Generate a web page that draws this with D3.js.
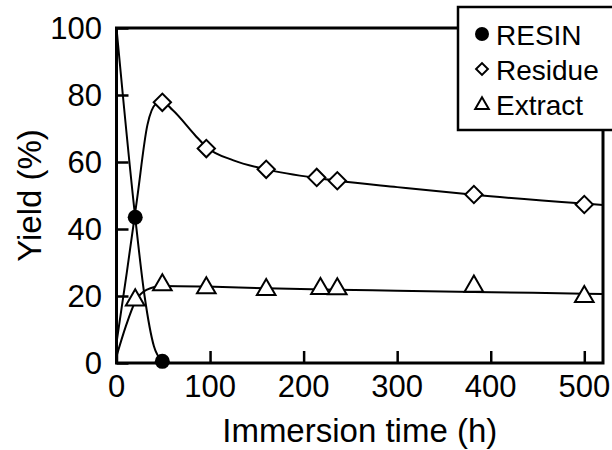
<!DOCTYPE html>
<html>
<head>
<meta charset="utf-8">
<script src="https://cdn.jsdelivr.net/npm/d3@7"></script>
<style>
  body{margin:0;background:#fff}
  svg{display:block}
</style>
</head>
<body>
<div id="chart"></div>
<script>
// measured points (t in h, yield in %)
var resinPts=[[0,100],[20,43.5],[49,0.5]];
var residuePts=[[49,77.8],[96,64],[160,57.8],[214,55.4],[236,54.4],[382,50.3],[500,47.3]];
var extractPts=[[20,18.8],[49,23.3],[96,22.4],[160,21.9],[218,22.2],[236,22.1],[382,22.9],[500,19.8]];

// fitted curves as drawn in the figure
var resinFit=[[0,100],[20,43.5],[30,20],[40,5],[49,0.5]];
var residueFit=[[0,6],[11,27],[22,49],[33,71],[42,77.3],[49,78],[60,75.5],[84,68],[96,64.5],[125,60.5],[160,57.8],[214,55.2],[236,54.4],[300,52.5],[382,50.2],[500,47.6],[520,47.2]];
var extractFit=[[0,2],[10,11],[20,18.3],[32,21.8],[49,23],[96,22.8],[160,22.3],[236,21.9],[300,21.6],[382,21.2],[500,20.7],[520,20.6]];

var xTicks=[0,100,200,300,400,500];
var yTicks=[0,20,40,60,80,100];
var legendLabels=['RESIN','Residue','Extract'];

var W=612,H=450;
var m={l:116.5,t:28,r:9,b:87};
var F='"Liberation Sans",Arial,sans-serif';

var svg=d3.select('#chart').append('svg').attr('width',W).attr('height',H);
var x=d3.scaleLinear().domain([0,520]).range([m.l,W-m.r]);
var y=d3.scaleLinear().domain([0,100]).range([H-m.b,m.t]);

// ticks, inward
var gx=svg.append('g').attr('transform','translate(0,'+(H-m.b)+')')
  .call(d3.axisBottom(x).tickValues(xTicks).tickSize(-12).tickFormat(''));
var gy=svg.append('g').attr('transform','translate('+m.l+',0)')
  .call(d3.axisLeft(y).tickValues(yTicks).tickSize(-12).tickFormat(''));
[gx,gy].forEach(function(g){
  g.select('.domain').remove();
  g.selectAll('.tick line').attr('stroke','#000').attr('stroke-width',2.5);
});

// tick labels
svg.selectAll('.xl').data(xTicks).enter().append('text')
  .attr('x',function(d){return x(d)}).attr('y',H-m.b+34)
  .attr('text-anchor','middle').attr('font-family',F).attr('font-size',31).text(function(d){return d});
svg.selectAll('.yl').data(yTicks).enter().append('text')
  .attr('x',102).attr('y',function(d){return y(d)}).attr('dy','0.36em')
  .attr('text-anchor','end').attr('font-family',F).attr('font-size',31).text(function(d){return d});

// axis titles
svg.append('text').attr('x',(m.l+W-m.r)/2).attr('y',442)
  .attr('text-anchor','middle').attr('font-family',F).attr('font-size',33).text('Immersion time (h)');
svg.append('text').attr('transform','translate(41,'+((m.t+H-m.b)/2)+') rotate(-90)')
  .attr('text-anchor','middle').attr('font-family',F).attr('font-size',33).text('Yield (%)');

// curves
var line=d3.line().x(function(d){return x(d[0])}).y(function(d){return y(d[1])}).curve(d3.curveMonotoneX);
var plot=svg.append('g');
[resinFit,residueFit,extractFit].forEach(function(f){
  plot.append('path').attr('d',line(f)).attr('fill','none').attr('stroke','#000').attr('stroke-width',2);
});

// frame
svg.append('rect').attr('x',m.l).attr('y',m.t).attr('width',W-m.r-m.l).attr('height',H-m.b-m.t)
  .attr('fill','none').attr('stroke','#000').attr('stroke-width',3);

// markers
var diamond=d3.symbol().type(d3.symbolSquare).size(150);
var tri=d3.symbol().type(d3.symbolTriangle).size(150);
plot.selectAll('.res').data(residuePts).enter().append('path')
  .attr('d',diamond).attr('transform',function(d){return 'translate('+x(d[0])+','+y(d[1])+') rotate(45)'})
  .attr('fill','#fff').attr('stroke','#000').attr('stroke-width',2);
plot.selectAll('.ext').data(extractPts).enter().append('path')
  .attr('d',tri).attr('transform',function(d){return 'translate('+x(d[0])+','+y(d[1])+')'})
  .attr('fill','#fff').attr('stroke','#000').attr('stroke-width',2);
plot.selectAll('.rsn').data(resinPts.slice(1)).enter().append('circle')
  .attr('cx',function(d){return x(d[0])}).attr('cy',function(d){return y(d[1])}).attr('r',7.5)
  .attr('fill','#000');

// legend
var lg=svg.append('g');
lg.append('rect').attr('x',458).attr('y',7).attr('width',170).attr('height',123)
  .attr('fill','#fff').attr('stroke','#000').attr('stroke-width',2.5);
var ly=[34,69,104];
lg.append('circle').attr('cx',482).attr('cy',ly[0]).attr('r',7).attr('fill','#000');
lg.append('path').attr('d',d3.symbol().type(d3.symbolSquare).size(70)).attr('transform','translate(482,'+ly[1]+') rotate(45)')
  .attr('fill','#fff').attr('stroke','#000').attr('stroke-width',2);
lg.append('path').attr('d',d3.symbol().type(d3.symbolTriangle).size(80)).attr('transform','translate(482,'+(ly[2]+1)+')')
  .attr('fill','#fff').attr('stroke','#000').attr('stroke-width',2);
lg.selectAll('.lt').data(legendLabels).enter().append('text')
  .attr('x',496).attr('y',function(d,i){return ly[i]+11})
  .attr('font-family',F).attr('font-size',28).text(function(d){return d});
</script>
</body>
</html>
